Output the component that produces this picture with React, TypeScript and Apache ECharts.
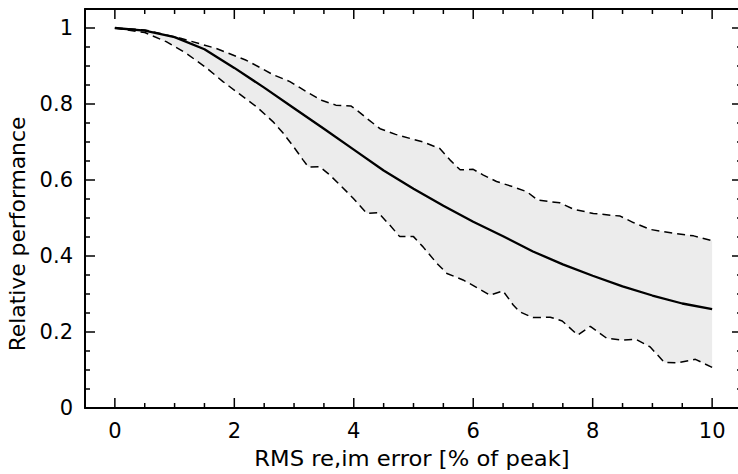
import React, { useEffect, useRef } from "react";
import * as echarts from "echarts";

// ---- axis ticks and labels ----
const xMajorTicks = [0, 2, 4, 6, 8, 10];
const xMinorTicks = [0.5, 1, 1.5, 2.5, 3, 3.5, 4.5, 5, 5.5, 6.5, 7, 7.5, 8.5, 9, 9.5];
const yMajorTicks = [0, 0.2, 0.4, 0.6, 0.8, 1];
const yMinorTicks = [0.05, 0.1, 0.15, 0.25, 0.3, 0.35, 0.45, 0.5, 0.55, 0.65, 0.7, 0.75, 0.85, 0.9, 0.95];

// ---- data ----
const meanX = [0, 0.5, 1, 1.5, 2, 2.5, 3, 3.5, 4, 4.5, 5, 5.5, 6, 6.5, 7, 7.5, 8, 8.5, 9, 9.5, 10];
const meanY = [1.0, 0.993, 0.976, 0.944, 0.895, 0.843, 0.789, 0.735, 0.68, 0.625, 0.577, 0.532, 0.49, 0.452, 0.412, 0.378, 0.348, 0.32, 0.296, 0.275, 0.26];

const upperX = [0, 0.5, 1.1, 1.7, 2.2, 2.43, 2.65, 2.93, 3.21, 3.46, 3.7, 3.95, 4.05, 4.22, 4.44, 4.7, 5.16, 5.44, 5.61, 5.78, 6.0, 6.17, 6.39, 6.67, 6.9, 7.08, 7.45, 7.68, 8.01, 8.46, 8.68, 8.96, 9.35, 9.69, 10];
const upperY = [1.0, 0.995, 0.973, 0.946, 0.915, 0.896, 0.877, 0.859, 0.832, 0.81, 0.797, 0.795, 0.784, 0.762, 0.735, 0.72, 0.7, 0.683, 0.653, 0.627, 0.628, 0.613, 0.596, 0.582, 0.569, 0.547, 0.54, 0.523, 0.512, 0.505, 0.488, 0.47, 0.46, 0.453, 0.44];

const lowerX = [0, 0.5, 0.86, 1.2, 1.54, 1.81, 2.09, 2.37, 2.65, 2.82, 2.99, 3.15, 3.24, 3.43, 3.6, 3.77, 3.99, 4.22, 4.41, 4.61, 4.77, 5.0, 5.16, 5.39, 5.56, 5.83, 6.06, 6.28, 6.5, 6.67, 6.78, 7.0, 7.29, 7.49, 7.75, 7.96, 8.24, 8.5, 8.72, 8.96, 9.2, 9.43, 9.72, 10];
const lowerY = [1.0, 0.988, 0.964, 0.933, 0.894, 0.859, 0.826, 0.793, 0.753, 0.723, 0.688, 0.653, 0.634, 0.635, 0.613, 0.587, 0.552, 0.512, 0.514, 0.48, 0.451, 0.451, 0.424, 0.381, 0.354, 0.337, 0.317, 0.297, 0.308, 0.271, 0.253, 0.238, 0.239, 0.229, 0.192, 0.215, 0.183, 0.179, 0.181, 0.161, 0.12, 0.119, 0.128, 0.107];

const xTitle = "RMS re,im error [% of peak]";
const yTitle = "Relative performance";

const FONT = "DejaVu Sans";
const BLACK = "#000";

const X_MIN = -0.5;
const X_MAX = 10.5;
const Y_MIN = 0;
const Y_MAX = 1.05;

const MAJOR_LEN = 10;
const MINOR_LEN = 5;

function pairs(xs: number[], ys: number[]) {
  return xs.map((x, i) => [x, ys[i]]);
}

const fmt = (v: number) => String(Math.round(v * 100) / 100);

function frameAxis(position: string, min: number, max: number, labelValues: number[] | null, margin: number) {
  return {
    type: "value",
    position,
    min,
    max,
    axisLine: { show: true, onZero: false, lineStyle: { color: BLACK, width: 2 } },
    axisTick: { show: false },
    axisLabel: labelValues
      ? { show: true, customValues: labelValues, fontSize: 21, fontFamily: FONT, color: BLACK, margin, formatter: fmt }
      : { show: false },
    splitLine: { show: false },
    minorTick: { show: false },
    splitArea: { show: false },
  };
}

export default function App() {
  const ref = useRef<HTMLDivElement>(null);

  useEffect(() => {
    if (!ref.current) return;
    const chart = echarts.init(ref.current, null, { renderer: "svg" });

    const option: any = {
      animation: false,
      backgroundColor: "#ffffff",
      grid: { left: 85, top: 9, width: 657, height: 399, containLabel: false, outerBoundsMode: "none" },
      xAxis: [frameAxis("bottom", X_MIN, X_MAX, xMajorTicks, 12), frameAxis("top", X_MIN, X_MAX, null, 0)],
      yAxis: [frameAxis("left", Y_MIN, Y_MAX, yMajorTicks, 12), frameAxis("right", Y_MIN, Y_MAX, null, 0)],
      series: [
        {
          // shaded band between the dashed bounds
          type: "custom",
          coordinateSystem: "cartesian2d",
          clip: false,
          data: [[0, 0]],
          renderItem: (_params: any, api: any) => {
            const top = upperX.map((x, i) => api.coord([x, upperY[i]]));
            const bottom = lowerX.map((x, i) => api.coord([x, lowerY[i]])).reverse();
            return {
              type: "polygon",
              shape: { points: top.concat(bottom) },
              style: { fill: "#ececec" },
            };
          },
        },
        {
          type: "line",
          data: pairs(upperX, upperY),
          showSymbol: false,
          symbol: "none",
          lineStyle: { color: BLACK, width: 1.5, type: [8, 5] },
        },
        {
          type: "line",
          data: pairs(lowerX, lowerY),
          showSymbol: false,
          symbol: "none",
          lineStyle: { color: BLACK, width: 1.5, type: [8, 5] },
        },
        {
          type: "line",
          data: pairs(meanX, meanY),
          showSymbol: false,
          symbol: "none",
          lineStyle: { color: BLACK, width: 2.3 },
        },
      ],
    };

    chart.setOption(option);

    // inward ticks on all four sides, positioned through the chart's own scales
    const toPx = (x: number, y: number) => chart.convertToPixel({ xAxisIndex: 0, yAxisIndex: 0 }, [x, y]) as number[];
    const tickEls: any[] = [];
    const tick = (x1: number, y1: number, x2: number, y2: number) =>
      tickEls.push({ type: "line", shape: { x1, y1, x2, y2 }, style: { stroke: "#000", lineWidth: 1.5 } });
    const addX = (vals: number[], len: number) =>
      vals.forEach((v) => {
        const b = toPx(v, Y_MIN);
        const t = toPx(v, Y_MAX);
        if (!b || !t) return;
        tick(b[0], b[1], b[0], b[1] - len);
        tick(t[0], t[1], t[0], t[1] + len);
      });
    const addY = (vals: number[], len: number) =>
      vals.forEach((v) => {
        const l = toPx(X_MIN, v);
        const r = toPx(X_MAX, v);
        if (!l || !r) return;
        tick(l[0], l[1], l[0] + len, l[1]);
        tick(r[0], r[1], r[0] - len, r[1]);
      });
    addX(xMajorTicks, MAJOR_LEN);
    addX(xMinorTicks, MINOR_LEN);
    addY(yMajorTicks, MAJOR_LEN);
    addY(yMinorTicks, MINOR_LEN);

    chart.setOption({
      graphic: [
        {
          type: "text",
          x: 412,
          y: 459,
          scaleX: 1.08,
          style: { text: xTitle, fontSize: 21, fontFamily: FONT, fill: BLACK, align: "center", verticalAlign: "middle" },
        },
        {
          type: "text",
          x: 18,
          y: 234,
          rotation: Math.PI / 2,
          scaleX: 1.04,
          style: { text: yTitle, fontSize: 21, fontFamily: FONT, fill: BLACK, align: "center", verticalAlign: "middle" },
        },
        ...tickEls,
      ],
    });

    return () => {
      chart.dispose();
    };
  }, []);

  return <div ref={ref} style={{ position: "fixed", left: 0, top: 0, width: 738, height: 474, background: "#fff" }} />;
}
